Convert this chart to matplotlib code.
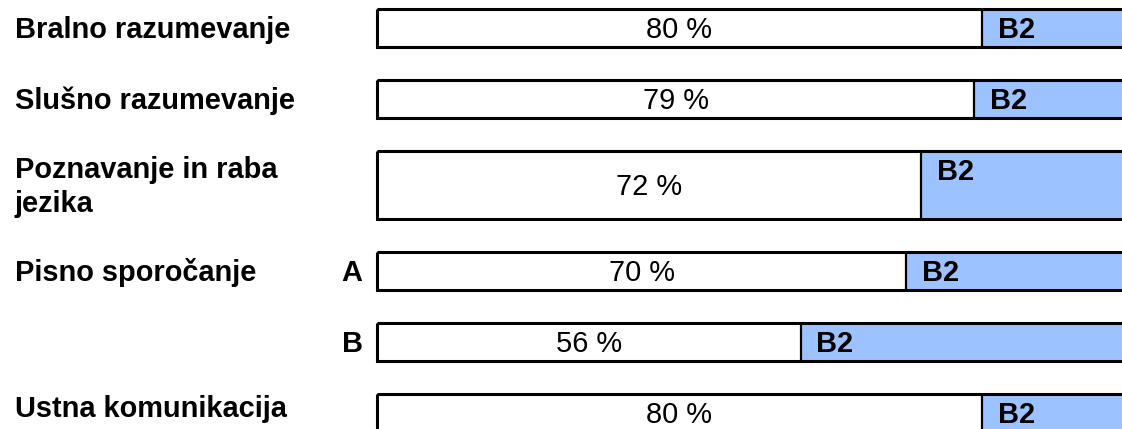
import matplotlib
matplotlib.use("Agg")
import matplotlib.pyplot as plt
from matplotlib.transforms import blended_transform_factory

plt.rcParams['font.family'] = ['Liberation Sans', 'DejaVu Sans']

# data
skills = ["Bralno razumevanje", "Slušno razumevanje", "Poznavanje in raba\njezika",
          "Pisno sporočanje", "", "Ustna komunikacija"]
parts = ["", "", "", "A", "B", ""]
scores = [80, 79, 72, 70, 56, 80]
levels = ["B2", "B2", "B2", "B2", "B2", "B2"]

# layout (figure pixels, from top)
W, H = 1122, 429
row_top = [9, 80, 151, 252, 323, 394]
row_h = [38, 38, 68, 38, 38, 38]
x0_px = 377
px_per_unit = 7.5625
fs = 20.9

blue = "#9CC2FF"

fig = plt.figure(figsize=(W / 100, H / 100), dpi=100)
ax = fig.add_axes([0, 0, 1, 1])
ax.set_xlim(-x0_px / px_per_unit, (W - x0_px) / px_per_unit)
ax.set_ylim(H, 0)
ax.axis("off")

lab_tr = blended_transform_factory(fig.transFigure, ax.transData)

for i in range(len(scores)):
    top, h, v = row_top[i], row_h[i], scores[i]
    yc = top + h / 2

    ax.barh(yc, v, height=h, left=0, color="white", edgecolor="none")
    ax.barh(yc, 100 - v, height=h, left=v, color=blue, edgecolor="none")
    ax.vlines(v, top, top + h, color="black", lw=1.6)
    ax.barh(yc, 100, height=h, left=0, color="none", edgecolor="black", lw=2.2)

    ax.text(v / 2, yc + 10, f"{v} %", ha="center", va="baseline", fontsize=fs)
    ax.text(v + 2.1, top + 7, levels[i], ha="left", va="top",
            fontsize=fs, fontweight="bold")

    # left labels, one baseline per line
    lines = skills[i].split("\n") if skills[i] else []
    base = yc + 10 - (len(lines) - 1) * 33 / 2
    if i == len(scores) - 1:
        base -= 6
    for k, line in enumerate(lines):
        ax.text(15 / W, base + k * 33, line, transform=lab_tr, ha="left",
                va="baseline", fontsize=fs, fontweight="bold")
    if parts[i]:
        ax.text(352 / W, yc + 10, parts[i], transform=lab_tr, ha="center",
                va="baseline", fontsize=fs, fontweight="bold")

fig.savefig("out.png", dpi=100)
